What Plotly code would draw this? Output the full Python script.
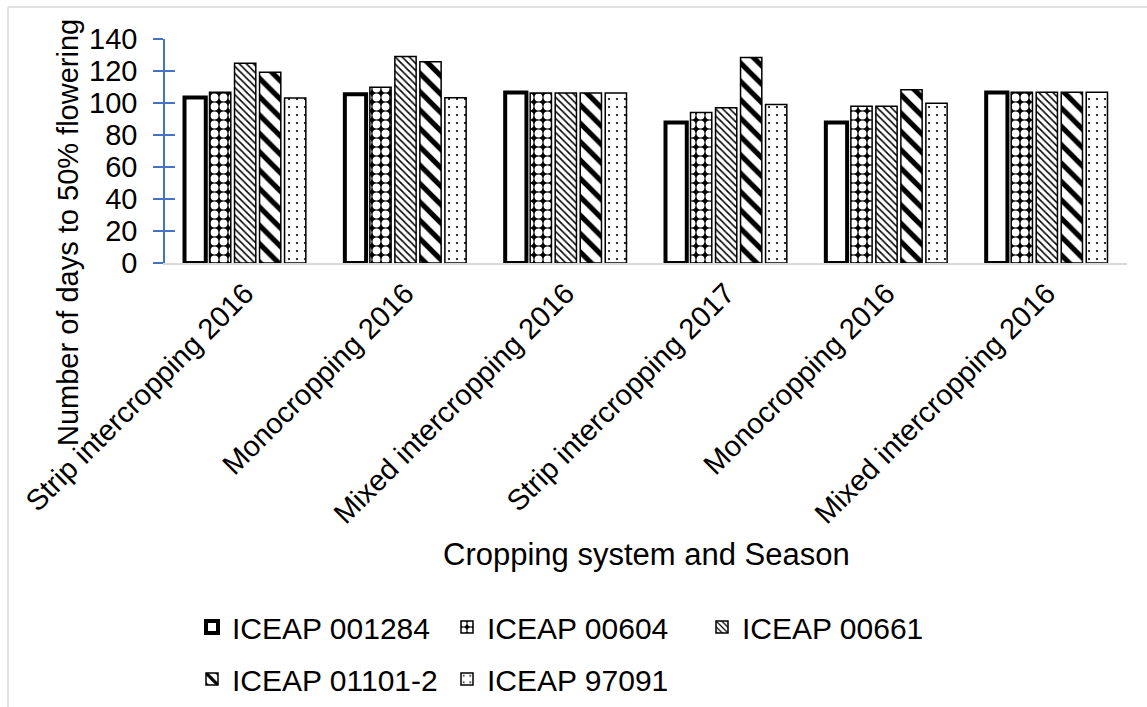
import plotly.graph_objects as go

categories = ["Strip intercropping 2016", "Monocropping 2016", "Mixed intercropping 2016",
              "Strip intercropping 2017", "Monocropping 2016", "Mixed intercropping 2016"]
series_names = ["ICEAP 001284", "ICEAP 00604", "ICEAP 00661", "ICEAP 01101-2", "ICEAP 97091"]
iceap_001284 = [103.5, 105.5, 106.5, 87.8, 87.8, 106.5]
iceap_00604 = [106.7, 109.8, 106.2, 94.0, 97.9, 106.7]
iceap_00661 = [124.8, 129.1, 106.2, 97.1, 97.9, 106.7]
iceap_01101_2 = [119.2, 125.8, 106.2, 128.5, 108.3, 106.7]
iceap_97091 = [103.1, 103.3, 106.2, 99.0, 99.8, 106.7]
y_ticks = [0, 20, 40, 60, 80, 100, 120, 140]

W, H = 1147, 707
L, R, T, B = 165, 20, 39, 444
PW, PH = W - L - R, H - T - B
FONT = "Liberation Sans, Arial, sans-serif"
BLUE = "#4472C4"

def px_x(px):
    return (px - L) / PW

def px_y(py):
    return (H - B - py) / PH

x_pos = list(range(len(categories)))
values = [iceap_001284, iceap_00604, iceap_00661, iceap_01101_2, iceap_97091]
styles = [
    dict(color="white", line=dict(color="black", width=4)),
    dict(color="black", line=dict(color="black", width=1.5),
         pattern=dict(shape=".", fgcolor="white", bgcolor="black", size=9, solidity=0.6, fillmode="replace")),
    dict(color="white", line=dict(color="black", width=1.5),
         pattern=dict(shape="\\", fgcolor="black", bgcolor="white", size=5, solidity=0.3, fillmode="replace")),
    dict(color="white", line=dict(color="black", width=1.5),
         pattern=dict(shape="\\", fgcolor="black", bgcolor="white", size=13, solidity=0.4, fillmode="replace")),
    dict(color="white", line=dict(color="black", width=1.5),
         pattern=dict(shape=".", fgcolor="black", bgcolor="white", size=8, solidity=0.06, fillmode="replace")),
]
legends = ["legend", "legend", "legend", "legend2", "legend2"]

fig = go.Figure()
for name, vals, st, lg in zip(series_names, values, styles, legends):
    fig.add_trace(go.Bar(x=x_pos, y=vals, name=name, marker=st, legend=lg))

# helper invisible trace for the inner ticks axis
fig.add_trace(go.Scatter(x=[None], y=[None], yaxis="y2", showlegend=False, hoverinfo="skip"))

fig.update_layout(
    width=W, height=H,
    margin=dict(l=L, r=R, t=T, b=B, autoexpand=False),
    paper_bgcolor="white", plot_bgcolor="white",
    font=dict(family=FONT, color="black", size=29),
    barmode="group", bargap=0.22, bargroupgap=0.15,
    xaxis=dict(range=[-0.5, len(categories) - 0.5], tickvals=x_pos, ticktext=categories,
               tickangle=-45, showline=True, linecolor="#d9d9d9", linewidth=1.5, automargin=False,
               ticks="", showgrid=False, zeroline=False, tickfont=dict(size=29, family=FONT)),
    yaxis=dict(range=[0, 140], tickvals=y_ticks, showline=True, linecolor=BLUE, linewidth=1.5,
               ticks="outside", ticklen=10, tickcolor=BLUE, tickwidth=1.5, showgrid=False,
               automargin=False,
               zeroline=False, tickfont=dict(size=29, family=FONT), ticklabelstandoff=10),
    yaxis2=dict(range=[0, 140], tickvals=y_ticks, overlaying="y", side="left", showline=False,
                ticks="inside", ticklen=10, tickcolor=BLUE, tickwidth=1.5, showticklabels=False,
                showgrid=False, zeroline=False, automargin=False),
    legend=dict(orientation="h", x=px_x(192), y=px_y(601), xanchor="left", yanchor="top",
                font=dict(size=30, family=FONT), entrywidth=210, entrywidthmode="pixels",
                bgcolor="rgba(0,0,0,0)"),
    legend2=dict(orientation="h", x=px_x(192), y=px_y(653), xanchor="left", yanchor="top",
                 font=dict(size=30, family=FONT), entrywidth=210, entrywidthmode="pixels",
                 bgcolor="rgba(0,0,0,0)"),
    annotations=[
        dict(text="Number of days to 50% flowering", textangle=-90, xref="paper", yref="paper",
             x=px_x(68), y=px_y(233), xanchor="center", yanchor="middle", showarrow=False,
             font=dict(size=29, family=FONT)),
        dict(text="Cropping system and Season", xref="paper", yref="paper",
             x=0.5, y=px_y(554), xanchor="center", yanchor="middle", showarrow=False,
             font=dict(size=31, family=FONT)),
    ],
    shapes=[
        dict(type="line", xref="paper", yref="paper", x0=px_x(8), x1=px_x(8), y0=px_y(720), y1=px_y(7),
             line=dict(color="#d9d9d9", width=1.5)),
        dict(type="line", xref="paper", yref="paper", x0=px_x(8), x1=px_x(1160), y0=px_y(7), y1=px_y(7),
             line=dict(color="#d9d9d9", width=1.5)),
    ],
)

fig.write_html("out.html")
